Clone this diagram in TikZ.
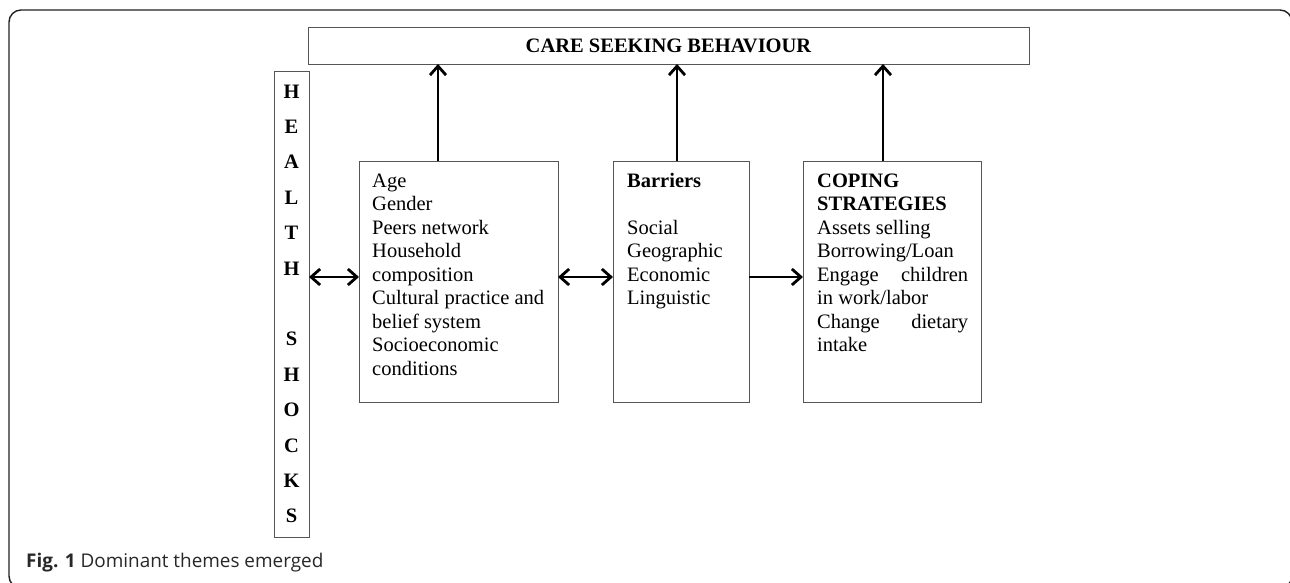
\documentclass[tikz,border=0pt]{standalone}
\usepackage{fontspec}
\setmainfont{Liberation Serif}
\newfontfamily\capfont{Open Sans}
\usetikzlibrary{arrows.meta}
\definecolor{boxgray}{RGB}{85,85,85}
\definecolor{framegray}{RGB}{35,35,35}
\definecolor{captext}{RGB}{40,40,40}
\tikzset{
  tipstyle/.tip={Straight Barb[length=9pt,width=16pt]},
  boxnode/.style={draw=boxgray, line width=1pt, rectangle, inner sep=0pt, outer sep=0pt},
  conn/.style={line width=2.8pt, black, arrows={-tipstyle}},
  dconn/.style={line width=2.8pt, black, arrows={tipstyle-tipstyle}},
  bodytext/.style={anchor=base west, inner sep=0pt, font=\fontsize{20.5}{23.5}\selectfont},
  letter/.style={anchor=base, inner sep=0pt, font=\fontsize{20.5}{23.5}\selectfont\bfseries}
}
\begin{document}
\begin{tikzpicture}[x=1pt, y=-1pt]
\clip (0,0) rectangle (1290,582);
\fill[white] (0,0) rectangle (1290,582);
% outer frame
\draw[framegray, line width=1.4pt, rounded corners=12pt] (9,10) rectangle (1292,588);
% boxes
\node[boxnode, minimum width=721pt, minimum height=37pt, font=\fontsize{20.5}{23.5}\selectfont\bfseries] (title) at (668.5,45.5) {CARE SEEKING BEHAVIOUR};
\node[boxnode, minimum width=35pt, minimum height=466pt] (hs) at (291.5,304) {};
\node[boxnode, minimum width=199pt, minimum height=241pt] (b1) at (458.5,281.5) {};
\node[boxnode, minimum width=136pt, minimum height=241pt] (b2) at (681,281.5) {};
\node[boxnode, minimum width=178pt, minimum height=241pt] (b3) at (892,281.5) {};
% health shocks letters
\foreach \l/\i in {H/0,E/1,A/2,L/3,T/4,H/5,S/7,H/8,O/9,C/10,K/11,S/12}{
  \node[letter] (hl\i) at (291.5,98+\i*35.4) {\l};
}
% box texts
\node[bodytext] (t1) at (372,187) {\parbox[t]{180pt}{\raggedright
Age\\ Gender\\ Peers network\\ Household\\ composition\\ Cultural practice and\\ belief system\\ Socioeconomic\\ conditions}};
\node[bodytext] (t2) at (627,187) {\parbox[t]{115pt}{\raggedright
\textbf{Barriers}\\[23.5pt] Social\\ Geographic\\ Economic\\ Linguistic}};
\node[bodytext] (t3) at (817,187) {\parbox[t]{151pt}{
\textbf{COPING}\\ \textbf{STRATEGIES}\\ Assets selling\\ Borrowing/Loan\\ Engage\hfill children\\ in work/labor\\ Change\hfill dietary\\ intake}};
% connector anchor coordinates
\coordinate (u1) at (438,161);
\coordinate (u2) at (677,161);
\coordinate (u3) at (883,161);
\coordinate (mid) at (0,277);
\draw[conn] (u1) -- (u1 |- title.south);
\draw[conn] (u2) -- (u2 |- title.south);
\draw[conn] (u3) -- (u3 |- title.south);
\draw[dconn] (hs.east |- mid) -- (b1.west |- mid);
\draw[dconn] (b1.east |- mid) -- (b2.west |- mid);
\draw[conn] (b2.east |- mid) -- (b3.west |- mid);
% caption
\node[anchor=base west, inner sep=0pt, text=captext, font=\capfont\fontsize{18.9}{22}\selectfont] (cap) at (26,567) {\textbf{Fig. 1} Dominant themes emerged};
\end{tikzpicture}
\end{document}
